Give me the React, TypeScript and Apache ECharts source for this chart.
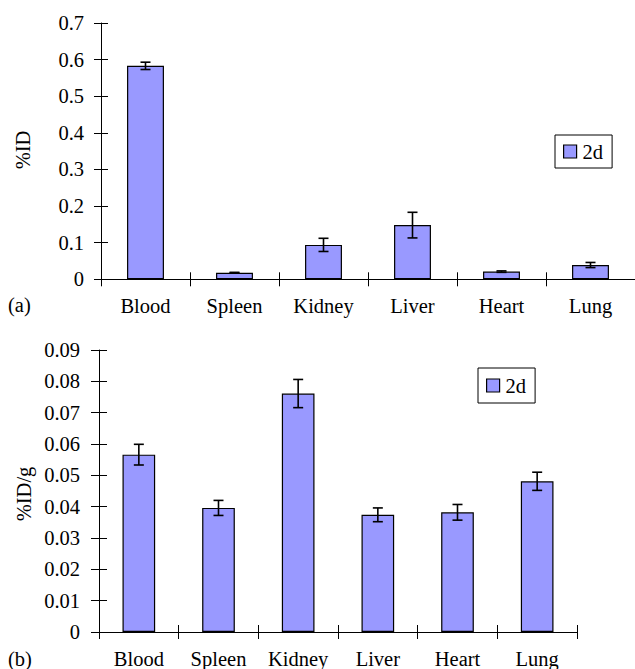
import React, { useEffect, useRef } from "react";
import * as echarts from "echarts";

// Organs sampled at 2 days
const organs = ["Blood", "Spleen", "Kidney", "Liver", "Heart", "Lung"];

// (a) percent injected dose per organ
const doseMean = [0.583, 0.018, 0.094, 0.148, 0.021, 0.039];
const doseErr = [0.01, 0.001, 0.018, 0.035, 0.002, 0.007];

// (b) percent injected dose per gram of tissue
const perGramMean = [0.0566, 0.0396, 0.0761, 0.0374, 0.0382, 0.0481];
const perGramErr = [0.0033, 0.0024, 0.0045, 0.0022, 0.0025, 0.0029];

const seriesName = "2d";
const FONT = "'Liberation Serif', 'Times New Roman', serif";
const FS = 20.5;
const BAR_FILL = "#9999ff";

const errorData = (mean: number[], err: number[]) =>
  mean.map((m, i) => [i, m - err[i], m + err[i]]);

const renderErrorBar = (params: any, api: any) => {
  const x = api.value(0);
  const top = api.coord([x, api.value(2)]);
  const bottom = api.coord([x, api.value(1)]);
  const hw = 5;
  const style = { stroke: "#000", lineWidth: 1.6 };
  return {
    type: "group",
    children: [
      { type: "line", shape: { x1: top[0], y1: top[1], x2: bottom[0], y2: bottom[1] }, style },
      { type: "line", shape: { x1: top[0] - hw, y1: top[1], x2: top[0] + hw, y2: top[1] }, style },
      { type: "line", shape: { x1: bottom[0] - hw, y1: bottom[1], x2: bottom[0] + hw, y2: bottom[1] }, style },
    ],
  };
};

const textStyle = { fontFamily: FONT, fontSize: FS, color: "#000" };

// A category axis pair: one draws line, labels and outward ticks; the twin draws inward ticks
const catAxes = (gridIndex: number, tickLen: number, margin: number) => [
  {
    type: "category",
    gridIndex,
    data: organs,
    axisLine: { lineStyle: { color: "#000", width: 1 } },
    axisTick: { show: true, length: tickLen, lineStyle: { color: "#000", width: 1 } },
    axisLabel: { ...textStyle, margin, interval: 0 },
    splitLine: { show: false },
  },
  {
    type: "category",
    gridIndex,
    data: organs,
    position: "bottom",
    axisLine: { show: false },
    axisTick: { show: true, inside: true, length: tickLen, lineStyle: { color: "#000", width: 1 } },
    axisLabel: { show: false },
    splitLine: { show: false },
  },
];

const valAxes = (
  gridIndex: number,
  max: number,
  interval: number,
  digits: number,
  tickLen: number,
  margin: number
) => {
  const base = { type: "value", gridIndex, min: 0, max, interval };
  return [
    {
      ...base,
      axisLine: { show: true, lineStyle: { color: "#000", width: 1 } },
      axisTick: { show: true, length: tickLen, lineStyle: { color: "#000", width: 1 } },
      axisLabel: {
        ...textStyle,
        margin,
        formatter: (v: number) => (v === 0 ? "0" : v.toFixed(digits)),
      },
      splitLine: { show: false },
    },
    {
      ...base,
      position: "left",
      axisLine: { show: false },
      axisTick: { show: true, inside: true, length: tickLen, lineStyle: { color: "#000", width: 1 } },
      axisLabel: { show: false },
      splitLine: { show: false },
    },
  ];
};

const legendBox = (left: number, top: number, padV: number) => ({
  data: [seriesName],
  left,
  top,
  orient: "horizontal",
  selectedMode: false,
  borderColor: "#000",
  borderWidth: 1,
  padding: [padV, 9, padV, 8],
  itemWidth: 13,
  itemHeight: 13,
  icon: "rect",
  itemStyle: { color: BAR_FILL, borderColor: "#000", borderWidth: 1.2 },
  textStyle: { ...textStyle, padding: [0, 0, 0, 1] },
});

export default function App() {
  const ref = useRef<HTMLDivElement>(null);

  useEffect(() => {
    if (!ref.current) return;
    const chart = echarts.init(ref.current, null, { renderer: "svg" });

    const barStyle = { color: BAR_FILL, borderColor: "#000", borderWidth: 1.2 };

    chart.setOption({
      animation: false,
      backgroundColor: "#fff",
      grid: [
        { left: 101, top: 23, width: 535, height: 256.3 },
        { left: 99, top: 350, width: 478, height: 284 },
      ],
      xAxis: [...catAxes(0, 7, 16), ...catAxes(1, 7, 16)],
      yAxis: [...valAxes(0, 0.7, 0.1, 1, 7, 17), ...valAxes(1, 0.09, 0.01, 2, 8, 19)],
      legend: [legendBox(555, 135, 6), legendBox(478, 368, 7)],
      graphic: [
        {
          type: "text",
          x: 23,
          y: 150,
          rotation: Math.PI / 2,
          style: { text: "%ID", font: `${FS}px ${FONT}`, fill: "#000", align: "center", verticalAlign: "middle" },
        },
        {
          type: "text",
          x: 24,
          y: 494,
          rotation: Math.PI / 2,
          style: { text: "%ID/g", font: `${FS}px ${FONT}`, fill: "#000", align: "center", verticalAlign: "middle" },
        },
        {
          type: "text",
          x: 8,
          y: 305,
          style: { text: "(a)", font: `${FS}px ${FONT}`, fill: "#000", align: "left", verticalAlign: "middle" },
        },
        {
          type: "text",
          x: 8,
          y: 659,
          style: { text: "(b)", font: `${FS}px ${FONT}`, fill: "#000", align: "left", verticalAlign: "middle" },
        },
      ],
      series: [
        {
          name: seriesName,
          type: "bar",
          xAxisIndex: 0,
          yAxisIndex: 0,
          barWidth: "41.5%",
          data: doseMean,
          itemStyle: barStyle,
        },
        {
          type: "custom",
          xAxisIndex: 0,
          yAxisIndex: 0,
          z: 5,
          data: errorData(doseMean, doseErr),
          encode: { x: 0, y: [1, 2] },
          renderItem: renderErrorBar,
        },
        {
          name: seriesName,
          type: "bar",
          xAxisIndex: 2,
          yAxisIndex: 2,
          barWidth: "41%",
          data: perGramMean,
          itemStyle: barStyle,
        },
        {
          type: "custom",
          xAxisIndex: 2,
          yAxisIndex: 2,
          z: 5,
          data: errorData(perGramMean, perGramErr),
          encode: { x: 0, y: [1, 2] },
          renderItem: renderErrorBar,
        },
      ],
    });

    return () => chart.dispose();
  }, []);

  return (
    <div
      ref={ref}
      style={{ position: "fixed", left: 0, top: 0, width: 635, height: 669, overflow: "hidden", background: "#fff" }}
    />
  );
}
